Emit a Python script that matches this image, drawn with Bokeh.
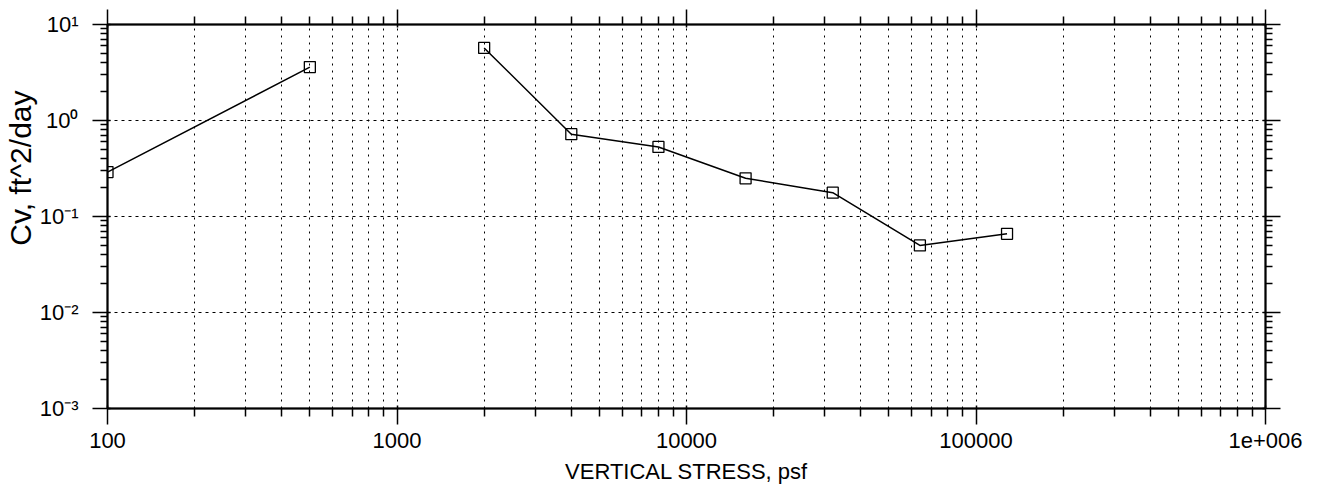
import math
from bokeh.plotting import figure
from bokeh.models import LogAxis, FixedTicker, ColumnDataSource, Title
from bokeh.embed import file_html
from bokeh.resources import INLINE

# ---- data ----
vertical_stress = [100, 500, 1000, 2000, 4000, 8000, 16000, 32000, 64000, 128000]
cv_values = [0.29, 3.6, float("nan"), 5.7, 0.72, 0.53, 0.25, 0.177, 0.050, 0.066]

x_major = [100, 1000, 10000, 100000, 1000000]
x_tick_labels = ["100", "1000", "10000", "100000", "1e+006"]
y_major = [0.001, 0.01, 0.1, 1, 10]
y_tick_labels = ["10\u207b\u00b3", "10\u207b\u00b2", "10\u207b\u00b9", "10\u2070", "10\u00b9"]

x_title = "VERTICAL STRESS, psf"
y_title = "Cv, ft^2/day"

FONT = "Liberation Sans"

x_minor = [m * d for d in x_major[:-1] for m in range(2, 10)]
y_minor = [m * d for d in y_major[:-1] for m in range(2, 10)]

src = ColumnDataSource(dict(x=vertical_stress, y=cv_values))

p = figure(
    x_axis_type="log", y_axis_type="log",
    x_range=(100, 1000000), y_range=(0.001, 10),
    width=1310, height=488,
    min_border_left=107, min_border_right=45,
    min_border_top=24, min_border_bottom=80,
    output_backend="svg", toolbar_location=None,
    background_fill_color="white", border_fill_color="white",
)

p.outline_line_color = "black"
p.outline_line_width = 1.5

# grids
p.xgrid.ticker = FixedTicker(ticks=x_major, minor_ticks=x_minor)
p.xgrid.grid_line_color = "black"
p.xgrid.grid_line_dash = "2 5"
p.xgrid.grid_line_width = 1
p.xgrid.minor_grid_line_color = "black"
p.xgrid.minor_grid_line_dash = "2 5"
p.xgrid.minor_grid_line_width = 1
p.ygrid.ticker = FixedTicker(ticks=y_major, minor_ticks=y_minor)
p.ygrid.grid_line_color = "black"
p.ygrid.grid_line_dash = "3 4"
p.ygrid.grid_line_width = 1

x_over = {v: s for v, s in zip(x_major, x_tick_labels)}
y_over = {v: s for v, s in zip(y_major, y_tick_labels)}


def style_axis(ax, is_x, show_labels):
    ax.ticker = FixedTicker(ticks=x_major if is_x else y_major,
                            minor_ticks=x_minor if is_x else y_minor)
    ax.axis_line_color = "black"
    ax.axis_line_width = 2
    ax.major_tick_line_color = "black"
    ax.major_tick_line_width = 1.5
    ax.minor_tick_line_color = "black"
    ax.minor_tick_line_width = 1.5
    ax.major_tick_in = 3
    ax.minor_tick_in = 0
    if is_x:
        ax.major_tick_out = 16 if show_labels else 15
        ax.minor_tick_out = 8
    else:
        ax.major_tick_out = 15
        ax.minor_tick_out = 7
    if show_labels:
        ax.major_label_overrides = x_over if is_x else y_over
        ax.major_label_text_font = FONT
        ax.major_label_text_font_size = "22px"
        ax.major_label_text_color = "black"
        ax.major_label_standoff = 8 if is_x else 14
        ax.axis_label_text_font = FONT
        ax.axis_label_text_font_style = "normal"
        ax.axis_label_text_color = "black"
    else:
        ax.major_label_text_font_size = "0px"
        ax.major_label_text_alpha = 0
        ax.major_label_standoff = 0


style_axis(p.xaxis[0], True, True)
style_axis(p.yaxis[0], False, True)
p.xaxis[0].axis_label = x_title
p.xaxis[0].axis_label_text_font_size = "22px"
p.xaxis[0].axis_label_standoff = 8

top_ax = LogAxis()
style_axis(top_ax, True, False)
p.add_layout(top_ax, "above")
right_ax = LogAxis()
style_axis(right_ax, False, False)
p.add_layout(right_ax, "right")

p.add_layout(Title(
    text=y_title, align="right", offset=66, standoff=0,
    text_font=FONT, text_font_size="30px", text_font_style="normal",
    text_color="black",
), "left")

p.line("x", "y", source=src, line_color="black", line_width=1.5)
p.scatter("x", "y", source=src, marker="square", size=11,
          fill_color=None, line_color="black", line_width=1.3)

open("out.html", "w").write(file_html(p, INLINE))
